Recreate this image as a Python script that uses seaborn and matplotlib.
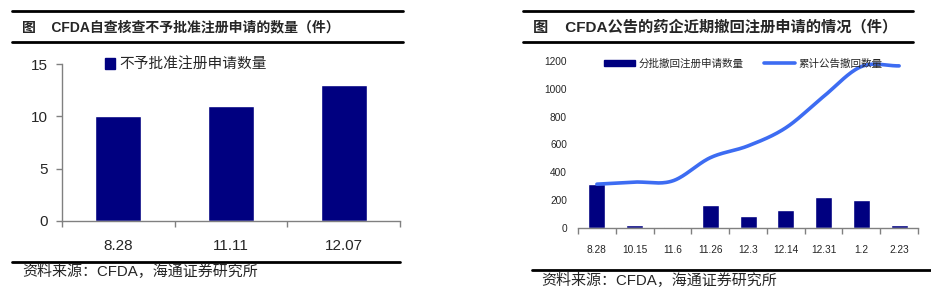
import numpy as np
import pandas as pd
import matplotlib
matplotlib.use("Agg")
import matplotlib.pyplot as plt
import seaborn as sns
from matplotlib.lines import Line2D
from matplotlib.patches import Patch

sns.set_theme(style="white")
plt.rcParams['font.family'] = ['Liberation Sans', 'Noto Sans CJK SC', 'DejaVu Sans']

# ---- data ----
left_cats = ["8.28", "11.11", "12.07"]
left_vals = [10, 11, 13]
left_label = "不予批准注册申请数量"
left_title = "图    CFDA自查核查不予批准注册申请的数量（件）"

right_cats = ["8.28", "10.15", "11.6", "11.26", "12.3", "12.14", "12.31", "1.2", "2.23"]
right_bars = [315, 18, 10, 165, 88, 130, 222, 200, 22]
right_line = [315, 330, 338, 505, 590, 720, 945, 1160, 1165]
bar_label = "分批撤回注册申请数量"
line_label = "累计公告撤回数量"
right_title = "图    CFDA公告的药企近期撤回注册申请的情况（件）"
source = "资料来源：CFDA，海通证券研究所"

NAVY = "#000080"
BLUE = "#3D6CF2"
W, H = 931, 300

fig = plt.figure(figsize=(W / 100, H / 100), dpi=100)


def fx(px):
    return px / W


def fy(py):
    return 1 - py / H


def hline(y, x0, x1, lw=2.0):
    fig.add_artist(Line2D([fx(x0), fx(x1)], [fy(y), fy(y)], color="black", lw=lw,
                          transform=fig.transFigure))


# ---- decorations ----
hline(11, 12, 403)
hline(42, 12, 403)
hline(262, 12, 400)
fig.text(fx(22), fy(27), left_title, fontsize=10, fontweight="bold", va="center", ha="left")
fig.text(fx(22), fy(272), source, fontsize=10.8, va="center", ha="left")

hline(11, 523, 913)
hline(42, 523, 913)
hline(270, 532, 931)
fig.text(fx(533), fy(27), right_title, fontsize=11, fontweight="bold", va="center", ha="left")
fig.text(fx(541), fy(281), source, fontsize=10.8, va="center", ha="left")

# ---- left chart ----
axL = fig.add_axes([fx(62), fy(221), fx(400 - 62), (221 - 64) / H])
dfL = pd.DataFrame({"cat": left_cats, "val": left_vals})
sns.barplot(data=dfL, x="cat", y="val", color=NAVY, saturation=1, width=0.41, ax=axL)
axL.set_ylim(0, 15)
axL.set_xlim(-0.5, len(left_cats) - 0.5)
axL.set_yticks([0, 5, 10, 15])
axL.set_xlabel("")
axL.set_ylabel("")
for s in ["top", "right"]:
    axL.spines[s].set_visible(False)
for s in ["left", "bottom"]:
    axL.spines[s].set_color("#808080")
    axL.spines[s].set_linewidth(1.0)
axL.tick_params(axis="y", which="major", length=4, width=1, color="#808080", direction="out",
                labelsize=11, pad=6, left=True)
axL.set_xticks(np.arange(len(left_cats)))
axL.set_xticklabels(left_cats, fontsize=11)
axL.tick_params(axis="x", which="major", length=0, pad=13)
axL.set_xticks(np.arange(len(left_cats) + 1) - 0.5, minor=True)
axL.tick_params(axis="x", which="minor", length=4, width=1, color="#808080", direction="out", bottom=True)
axL.legend(handles=[Patch(color=NAVY, label=left_label)], loc="upper left",
           bbox_to_anchor=(0.11, 1.08), frameon=False, fontsize=10.6, handlelength=0.7,
           handleheight=0.7, handletextpad=0.3, borderaxespad=0)

# ---- right chart ----
axR = fig.add_axes([fx(578), fy(228), fx(918 - 578), (228 - 61) / H])
dfR = pd.DataFrame({"cat": right_cats, "val": right_bars})
sns.barplot(data=dfR, x="cat", y="val", color=NAVY, saturation=1, width=0.45, ax=axR)


def catmull_rom(xs, ys, n=30):
    xs = np.asarray(xs, float)
    ys = np.asarray(ys, float)
    px = np.concatenate([[2 * xs[0] - xs[1]], xs, [2 * xs[-1] - xs[-2]]])
    py = np.concatenate([[2 * ys[0] - ys[1]], ys, [2 * ys[-1] - ys[-2]]])
    ox, oy = [], []
    t = np.linspace(0, 1, n, endpoint=False)
    for i in range(1, len(px) - 2):
        p0x, p1x, p2x, p3x = px[i - 1:i + 3]
        p0y, p1y, p2y, p3y = py[i - 1:i + 3]
        c1x = p1x + (p2x - p0x) / 6
        c1y = p1y + (p2y - p0y) / 6
        c2x = p2x - (p3x - p1x) / 6
        c2y = p2y - (p3y - p1y) / 6
        b0 = (1 - t) ** 3
        b1 = 3 * (1 - t) ** 2 * t
        b2 = 3 * (1 - t) * t ** 2
        b3 = t ** 3
        ox.append(b0 * p1x + b1 * c1x + b2 * c2x + b3 * p2x)
        oy.append(b0 * p1y + b1 * c1y + b2 * c2y + b3 * p2y)
    ox.append([xs[-1]])
    oy.append([ys[-1]])
    return np.concatenate(ox), np.concatenate(oy)


sx, sy = catmull_rom(np.arange(len(right_cats)), right_line)
sns.lineplot(x=sx, y=sy, color=BLUE, lw=2.6, ax=axR, sort=False, estimator=None)
axR.set_ylim(0, 1200)
axR.set_xlim(-0.5, len(right_cats) - 0.5)
axR.set_yticks(np.arange(0, 1201, 200))
axR.set_xlabel("")
axR.set_ylabel("")
for s in ["top", "right", "left"]:
    axR.spines[s].set_visible(False)
axR.spines["bottom"].set_color("#808080")
axR.spines["bottom"].set_linewidth(1.0)
axR.tick_params(axis="y", which="major", length=0, labelsize=7.3, pad=8)
axR.set_xticks(np.arange(len(right_cats)))
axR.set_xticklabels(right_cats, fontsize=7.3)
axR.tick_params(axis="x", which="major", length=0, pad=12)
axR.set_xticks(np.arange(len(right_cats) + 1) - 0.5, minor=True)
axR.tick_params(axis="x", which="minor", length=4, width=1, color="#808080", direction="out", bottom=True)
axR.legend(handles=[Patch(color=NAVY, label=bar_label),
                    Line2D([0], [0], color=BLUE, lw=2.6, label=line_label)],
           loc="upper left", bbox_to_anchor=(0.065, 1.04), ncol=2, frameon=False, fontsize=7.6,
           handlelength=2.9, handleheight=0.6, handletextpad=0.3, columnspacing=2.0,
           borderaxespad=0)

fig.savefig("out.png", dpi=100)
